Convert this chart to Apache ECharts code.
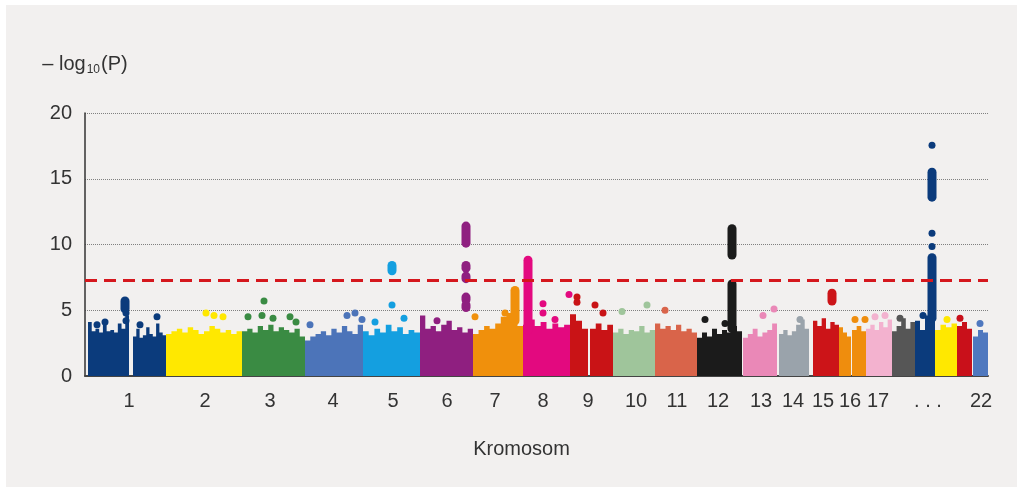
<!DOCTYPE html>
<html>
<head>
<meta charset="utf-8">
<script src="https://cdn.jsdelivr.net/npm/echarts@6/dist/echarts.min.js"></script>
<style>
  html, body { margin: 0; padding: 0; background: #fff; }
  #wrap { position: relative; width: 1022px; height: 492px; }
  #panel { position: absolute; left: 6px; top: 5px; width: 1011px; height: 482px; background: #f2f0ef; }
  #main { position: absolute; left: 0; top: 0; width: 1022px; height: 492px; }
</style>
</head>
<body>
<div id="wrap">
  <div id="panel"></div>
  <div id="main"></div>
</div>
<script>
// farger per kromosom (1..22)
const chrColors = ['#0b3b7c', '#ffe800', '#3a8b43', '#4c74b9', '#149fe0', '#8f1f80', '#f0900c', '#e3097f',
  '#c91316', '#9fc59b', '#d9644a', '#1b1b1b', '#ea88b7', '#9aa3ab', '#cc1418', '#ef8d0d',
  '#f3b2cf', '#565656', '#0b3b7c', '#ffe800', '#c9101a', '#4f78bf'];

// x-akse: etiketter og posisjoner
const tickLabels = ['1', '2', '3', '4', '5', '6', '7', '8', '9', '10', '11', '12', '13', '14', '15', '16', '17', '. . .', '22'];
const tickPos = [44, 120, 185, 248, 308, 362, 410, 458, 503, 551, 592, 633, 676, 708, 738, 765, 793, 843, 896];

// kromosomkropper (segmenter med høydeprofil)
const segChr = [0, 0, 1, 2, 3, 4, 5, 6, 7, 8, 8, 9, 10, 11, 12, 13, 14, 15, 15, 16, 17, 18, 19, 20, 21];
const segStart = [3, 48, 81, 157, 220, 278, 335, 388, 438, 485, 505, 528, 570, 612, 658, 694, 728, 754, 767, 781, 807, 830, 850, 872, 888];
const segEnd = [44, 81, 157, 220, 278, 335, 388, 438, 485, 503, 528, 570, 612, 657, 692, 724, 754, 766, 781, 807, 830, 850, 872, 887, 903];
const segHeights = [
  [4.1, 3.4, 3.6, 3.3, 3.9, 3.4, 3.5, 3.3, 4.0, 3.6, 4.6],
  [3.0, 3.6, 2.9, 3.1, 3.7, 3.2, 3.0, 4.0, 3.3, 3.1],
  [3.2, 3.4, 3.6, 3.3, 3.7, 3.5, 3.2, 3.4, 3.8, 3.6, 3.3, 3.5, 3.2, 3.4],
  [3.4, 3.6, 3.3, 3.8, 3.5, 3.9, 3.4, 3.7, 3.5, 3.3, 3.6, 3.0],
  [2.7, 3.0, 3.2, 3.4, 3.1, 3.6, 3.3, 3.8, 3.4, 3.2, 3.9],
  [3.4, 3.1, 3.6, 3.3, 3.9, 3.4, 3.7, 3.2, 3.5, 3.3],
  [4.6, 3.6, 3.8, 3.4, 3.9, 4.2, 3.5, 3.7, 3.3, 3.6],
  [3.2, 3.5, 3.8, 3.6, 4.0, 4.5, 4.8, 4.2, 3.8],
  [3.9, 4.3, 3.8, 4.1, 3.6, 4.0, 3.7, 3.9],
  [4.7, 4.2, 3.6],
  [3.6, 4.0, 3.5, 3.9],
  [3.3, 3.6, 3.2, 3.5, 3.4, 3.8, 3.3, 3.5],
  [4.0, 3.6, 3.8, 3.5, 3.9, 3.4, 3.6, 3.3],
  [2.9, 3.3, 3.0, 3.6, 3.2, 3.5, 3.3, 3.8, 3.4],
  [2.9, 3.2, 3.6, 3.0, 3.3, 3.5, 4.0],
  [3.2, 3.5, 3.1, 3.4, 3.9, 4.3, 3.6],
  [4.2, 3.8, 4.4, 3.6, 4.1, 3.9],
  [3.7, 3.3, 3.0],
  [3.5, 3.8, 3.4],
  [3.6, 3.9, 3.5, 4.1, 3.7, 4.3],
  [3.4, 3.8, 4.4, 3.6, 4.1],
  [4.2, 3.5, 4.6, 4.4],
  [3.5, 3.9, 3.7, 4.0],
  [3.8, 4.1, 3.6],
  [3.0, 3.5, 3.3]
];

// tette søyler av SNP-er: [kromosom, posisjon, fra, til]
const peakCols = [
  [0, 40, 5.1, 5.7],
  [4, 307, 8.0, 8.4],
  [5, 381, 10.1, 11.4], [5, 381, 8.2, 8.4], [5, 381, 7.4, 7.6], [5, 381, 5.8, 6.0], [5, 381, 5.2, 5.4],
  [6, 430, 4.2, 6.5],
  [7, 443, 3.5, 8.8],
  [11, 647, 9.2, 11.2], [11, 647, 3.6, 7.0],
  [14, 747, 5.7, 6.3],
  [18, 847, 13.6, 15.5], [18, 847, 4.4, 9.0]
];

// enkeltpunkter: [posisjon, -log10(P), kromosom]
const dots = [
  [41, 4.8, 0], [41, 4.2, 0], [12, 3.9, 0], [20, 4.1, 0], [72, 4.5, 0], [55, 3.9, 0],
  [121, 4.8, 1], [129, 4.6, 1], [138, 4.5, 1],
  [179, 5.7, 2], [177, 4.6, 2], [163, 4.5, 2], [188, 4.4, 2], [205, 4.5, 2], [211, 4.1, 2],
  [270, 4.8, 3], [262, 4.6, 3], [277, 4.3, 3], [225, 3.9, 3],
  [307, 5.4, 4], [319, 4.4, 4], [290, 4.1, 4],
  [352, 4.2, 5],
  [390, 4.5, 6], [420, 4.8, 6],
  [458, 5.5, 7], [458, 4.8, 7], [470, 4.3, 7], [484, 6.2, 7],
  [492, 6.0, 8], [492, 5.6, 8], [510, 5.4, 8], [518, 4.8, 8],
  [562, 5.4, 9], [537, 4.9, 9],
  [580, 5.0, 10],
  [620, 4.3, 11], [640, 4.0, 11],
  [689, 5.1, 12], [678, 4.6, 12],
  [715, 4.3, 13],
  [770, 4.3, 15], [780, 4.3, 15],
  [790, 4.5, 16], [800, 4.6, 16],
  [815, 4.4, 17],
  [847, 17.55, 18], [847, 10.85, 18], [847, 9.85, 18], [838, 4.6, 18],
  [862, 4.3, 19],
  [875, 4.4, 20],
  [895, 4.0, 21]
];

const threshold = 7.3;

const myChart = echarts.init(document.getElementById('main'));

const options = {
  animation: false,
  backgroundColor: 'transparent',
  textStyle: { fontFamily: 'Liberation Sans' },
  grid: { left: 85, right: 34, top: 113, bottom: 116 },
  xAxis: {
    type: 'value',
    min: 0,
    max: 903,
    name: 'Kromosom',
    nameLocation: 'middle',
    nameGap: 63,
    nameTextStyle: { fontSize: 20, color: '#333', padding: [0, 30, 0, 0] },
    axisLine: { lineStyle: { color: '#444', width: 2 } },
    axisTick: { show: false },
    splitLine: { show: false },
    axisLabel: {
      customValues: tickPos,
      formatter: v => tickLabels[tickPos.indexOf(v)],
      fontSize: 20,
      color: '#333',
      margin: 15
    }
  },
  yAxis: {
    type: 'value',
    min: 0,
    max: 20,
    interval: 5,
    name: '{a|– log}{s|10}{a|(P)}',
    nameLocation: 'end',
    nameGap: 37,
    nameTextStyle: {
      align: 'center',
      rich: {
        a: { fontSize: 20, color: '#333', fontFamily: 'Liberation Sans' },
        s: { fontSize: 12, color: '#333', fontFamily: 'Liberation Sans', padding: [11, 1, 0, 1] }
      }
    },
    axisLine: { show: true, lineStyle: { color: '#333', width: 1.5 } },
    axisTick: { show: false },
    axisLabel: { fontSize: 20, color: '#333', margin: 13 },
    splitLine: { lineStyle: { type: 'dotted', color: '#808080', width: 1 } }
  },
  series: [
    {
      type: 'custom',
      data: segStart.map((s, i) => [i, s, segEnd[i]]),
      encode: { x: [1, 2] },
      renderItem: (params, api) => {
        const i = api.value(0);
        const s = segStart[i], e = segEnd[i], hs = segHeights[i];
        const w = (e - s) / hs.length;
        const pts = [api.coord([s, 0])];
        hs.forEach((h, k) => {
          pts.push(api.coord([s + k * w, h]));
          pts.push(api.coord([s + (k + 1) * w, h]));
        });
        pts.push(api.coord([e, 0]));
        return { type: 'polygon', shape: { points: pts }, style: { fill: chrColors[segChr[i]] } };
      }
    },
    {
      type: 'custom',
      data: peakCols,
      encode: { x: 1, y: [2, 3] },
      renderItem: (params, api) => {
        const p0 = api.coord([api.value(1), api.value(2)]);
        const p1 = api.coord([api.value(1), api.value(3)]);
        return {
          type: 'line',
          shape: { x1: p0[0], y1: p0[1], x2: p1[0], y2: p1[1] },
          style: { stroke: chrColors[api.value(0)], lineWidth: 9, lineCap: 'round' }
        };
      }
    },
    {
      type: 'scatter',
      data: dots,
      symbolSize: 7,
      itemStyle: { color: p => chrColors[p.value[2]], opacity: 1 }
    },
    {
      type: 'line',
      data: [],
      z: 10,
      markLine: {
        silent: true,
        symbol: 'none',
        label: { show: false },
        lineStyle: { color: '#d5171d', width: 3, type: [12, 7] },
        data: [{ yAxis: threshold }]
      }
    }
  ]
};

myChart.setOption(options);
window.addEventListener('resize', () => {
  myChart.resize();
});
</script>
</body>
</html>
